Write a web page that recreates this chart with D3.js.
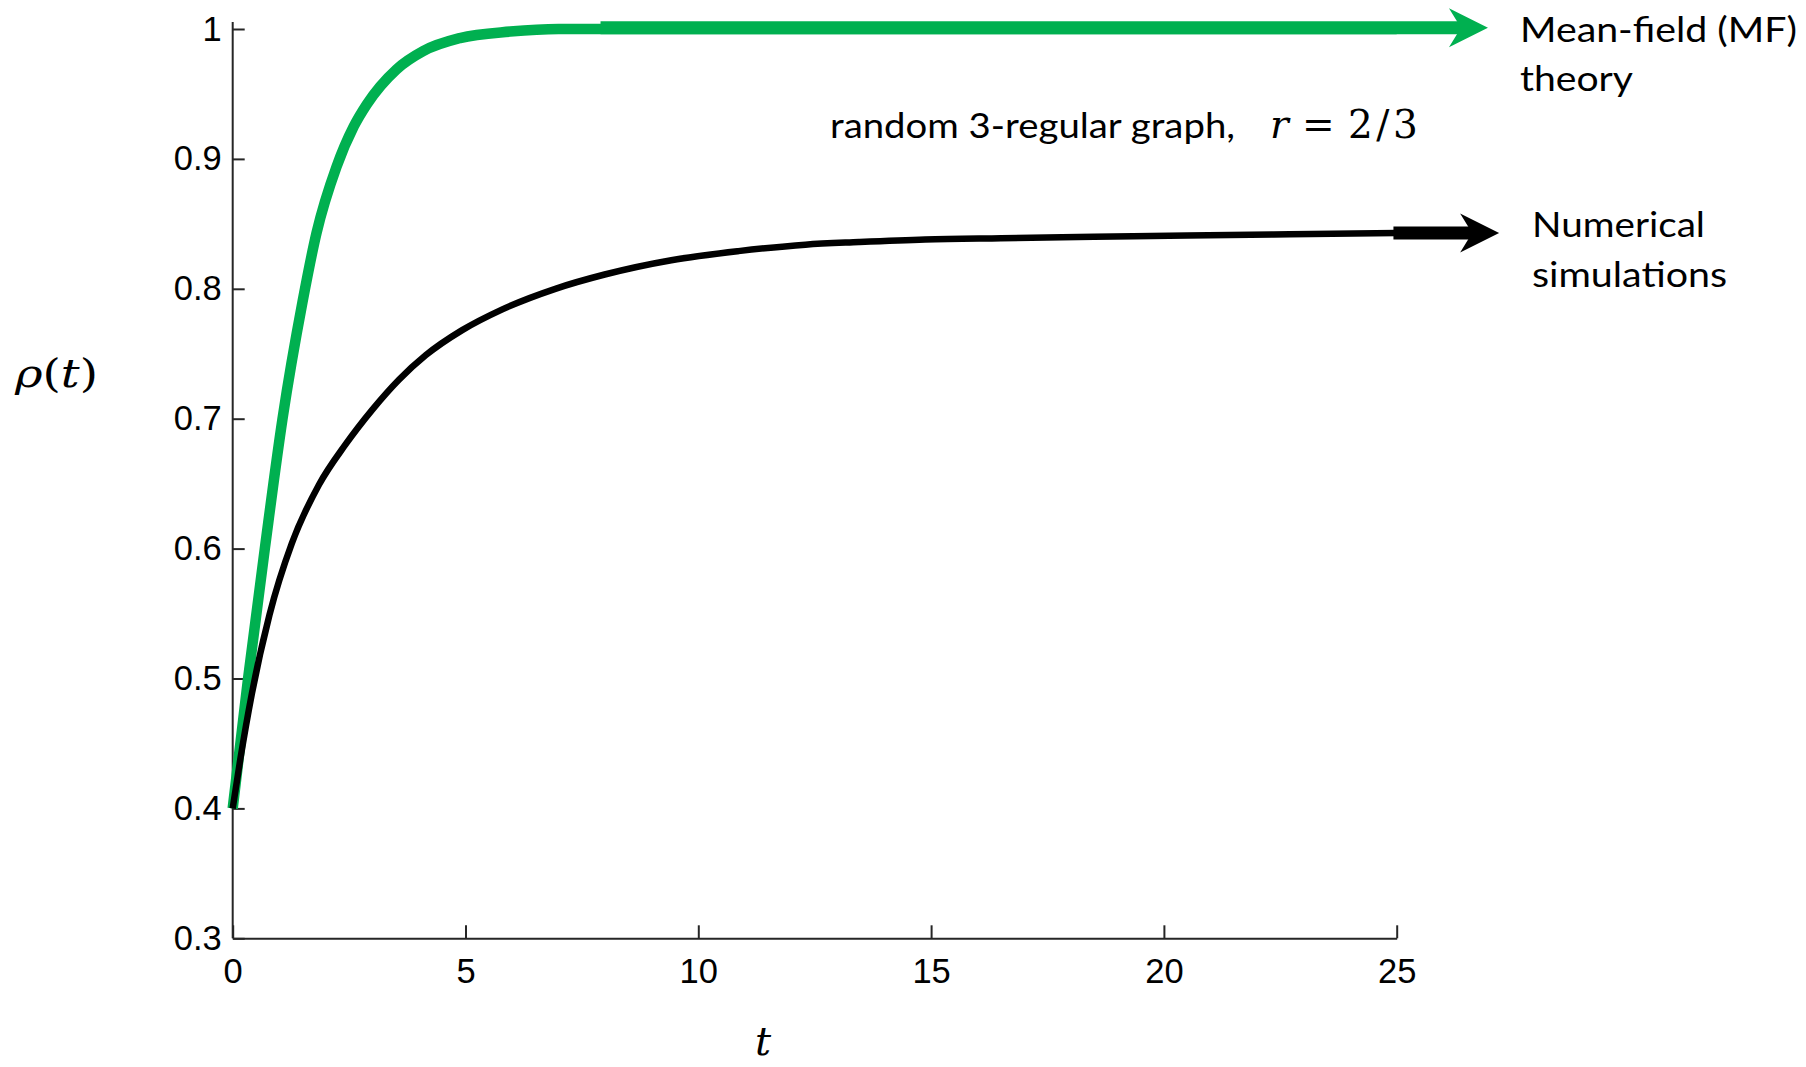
<!DOCTYPE html>
<html>
<head>
<meta charset="utf-8">
<script src="https://cdn.jsdelivr.net/npm/d3@7"></script>
<style>
    html, body { margin: 0; padding: 0; background: #fff; }
    svg { display: block; }
</style>
</head>
<body>
<div id="chart"></div>
<script>
// axis ticks
const tTicks = [0, 5, 10, 15, 20, 25];
const rhoTicks = [0.3, 0.4, 0.5, 0.6, 0.7, 0.8, 0.9, 1];
const rhoTickLabels = ['0.3', '0.4', '0.5', '0.6', '0.7', '0.8', '0.9', '1'];

// mean-field theory curve (green)
const mfT   = [0, 0.33, 0.69, 1.07, 1.5, 1.8, 2.23, 2.6, 2.88, 3.52, 4.09, 4.88, 5.96, 7, 8, 12, 16, 20, 25];
const mfRho = [0.4, 0.5, 0.6, 0.7, 0.79, 0.843, 0.894, 0.925, 0.942, 0.969, 0.983, 0.993, 0.998, 1, 1, 1, 1, 1, 1];

// numerical simulations curve (black)
const simT   = [0, 0.16, 0.41, 0.79, 1.27, 1.85, 2.42, 3.0, 3.57, 4.15, 4.92, 5.78, 6.93, 7.99, 9.42, 10.86, 12.3, 13.45, 14.87, 16.5, 18.5, 20.5, 22.7, 25];
const simRho = [0.4, 0.437, 0.488, 0.549, 0.604, 0.649, 0.68, 0.707, 0.73, 0.749, 0.768, 0.784, 0.8, 0.811, 0.822, 0.829, 0.834, 0.836, 0.838, 0.839, 0.84, 0.841, 0.842, 0.843];

function draw() {
    const dimensions = {
        width: 1806,
        height: 1067,
        left: 232.7,
        right: 1396.7,
        top: 29,
        bottom: 938.3
    }

    const green = '#00b050';

    // Scales
    const xScale = d3.scaleLinear()
        .domain([0, 25])
        .range([dimensions.left, dimensions.right])

    const yScale = d3.scaleLinear()
        .domain([0.3, 1])
        .range([dimensions.bottom, dimensions.top])

    const svg = d3.select('#chart')
        .append('svg')
        .attr('width', dimensions.width)
        .attr('height', dimensions.height)
        .style('background', '#fff')

    const line = d3.line()
        .x(d => xScale(d[0]))
        .y(d => yScale(d[1]))
        .curve(d3.curveMonotoneX)

    const mfData = mfT.map((t, i) => [t, mfRho[i]]);
    const simData = simT.map((t, i) => [t, simRho[i]]);

    // Axes
    const xAxis = d3.axisBottom(xScale)
        .tickValues(tTicks)
        .tickFormat(d => d)
        .tickSize(-13)
        .tickSizeOuter(0)
        .tickPadding(20)

    svg.append('g')
        .attr('transform', `translate(0, ${dimensions.bottom})`)
        .call(xAxis)

    const yAxis = d3.axisLeft(yScale)
        .tickValues(rhoTicks)
        .tickFormat((d, i) => rhoTickLabels[i])
        .tickSize(-12)
        .tickSizeOuter(0)
        .tickPadding(11)

    const yAxisGroup = svg.append('g')
        .attr('transform', `translate(${dimensions.left}, 0)`)
        .call(yAxis)

    // y axis line runs a little above the top tick
    yAxisGroup.select('.domain')
        .attr('d', `M0,${dimensions.bottom}V${dimensions.top - 7}`)

    svg.selectAll('.domain, .tick line')
        .attr('stroke', '#262626')
        .attr('stroke-width', 2)

    svg.selectAll('.tick text')
        .attr('fill', '#000')
        .style('font-family', '"Liberation Sans", Arial, sans-serif')
        .style('font-size', '34.5px')

    // Curves
    svg.append('path')
        .datum(mfData)
        .attr('d', line)
        .attr('fill', 'none')
        .attr('stroke', green)
        .attr('stroke-width', 10.5)
        .attr('stroke-linejoin', 'round')

    svg.append('path')
        .datum(simData)
        .attr('d', line)
        .attr('fill', 'none')
        .attr('stroke', '#000')
        .attr('stroke-width', 6.5)
        .attr('stroke-linejoin', 'round')

    // Arrows pointing to the labels
    const arrow = (t0, t1, rho, color) => {
        const y = yScale(rho);
        const x0 = xScale(t0);
        const tip = xScale(t1);
        const back = tip - 39;
        const notch = tip - 27;
        svg.append('line')
            .attr('x1', x0).attr('x2', notch + 1)
            .attr('y1', y).attr('y2', y)
            .attr('stroke', color)
            .attr('stroke-width', 13)
        svg.append('path')
            .attr('d', `M${tip},${y}L${back},${y - 19.5}L${notch},${y}L${back},${y + 19.5}Z`)
            .attr('fill', color)
    }

    arrow(7.9, 26.96, 1.001, green);
    arrow(24.93, 27.2, 0.843, '#000');

    // Labels
    const sans = 'Lato, "Open Sans", sans-serif';
    const serif = '"DejaVu Serif", "Liberation Serif", serif';

    const label = (txt, x, y, len) => svg.append('text')
        .attr('x', x)
        .attr('y', y)
        .attr('textLength', len)
        .attr('lengthAdjust', 'spacingAndGlyphs')
        .style('font-family', sans)
        .style('font-size', '35px')
        .attr('fill', '#000')
        .text(txt)

    label('Mean-field (MF)', 1520, 41.7, 277);
    label('theory', 1520, 91, 113);
    label('Numerical', 1532, 236.7, 173);
    label('simulations', 1532, 286.7, 195);
    label('random 3-regular graph,', 830, 138, 405);

    const mathText = svg.append('text')
        .attr('y', 138)
        .style('font-family', serif)
        .style('font-size', '39px')
        .attr('fill', '#000')

    mathText.append('tspan').attr('x', 1270).style('font-style', 'italic').text('r');
    mathText.append('tspan').attr('x', 1302).text('=');
    mathText.append('tspan').attr('x', 1348).style('letter-spacing', '3.5px').text('2/3');

    // axis titles
    const yTitle = svg.append('text')
        .attr('x', 15)
        .attr('y', 387)
        .attr('textLength', 83)
        .attr('lengthAdjust', 'spacingAndGlyphs')
        .style('font-family', serif)
        .style('font-size', '39px')
        .attr('fill', '#000')

    yTitle.append('tspan').style('font-style', 'italic').text('ρ');
    yTitle.append('tspan').text('(');
    yTitle.append('tspan').style('font-style', 'italic').text('t');
    yTitle.append('tspan').text(')');

    svg.append('text')
        .attr('x', 763)
        .attr('y', 1055)
        .attr('text-anchor', 'middle')
        .style('font-family', serif)
        .style('font-size', '40px')
        .style('font-style', 'italic')
        .attr('fill', '#000')
        .text('t')
}

draw()
</script>
</body>
</html>
